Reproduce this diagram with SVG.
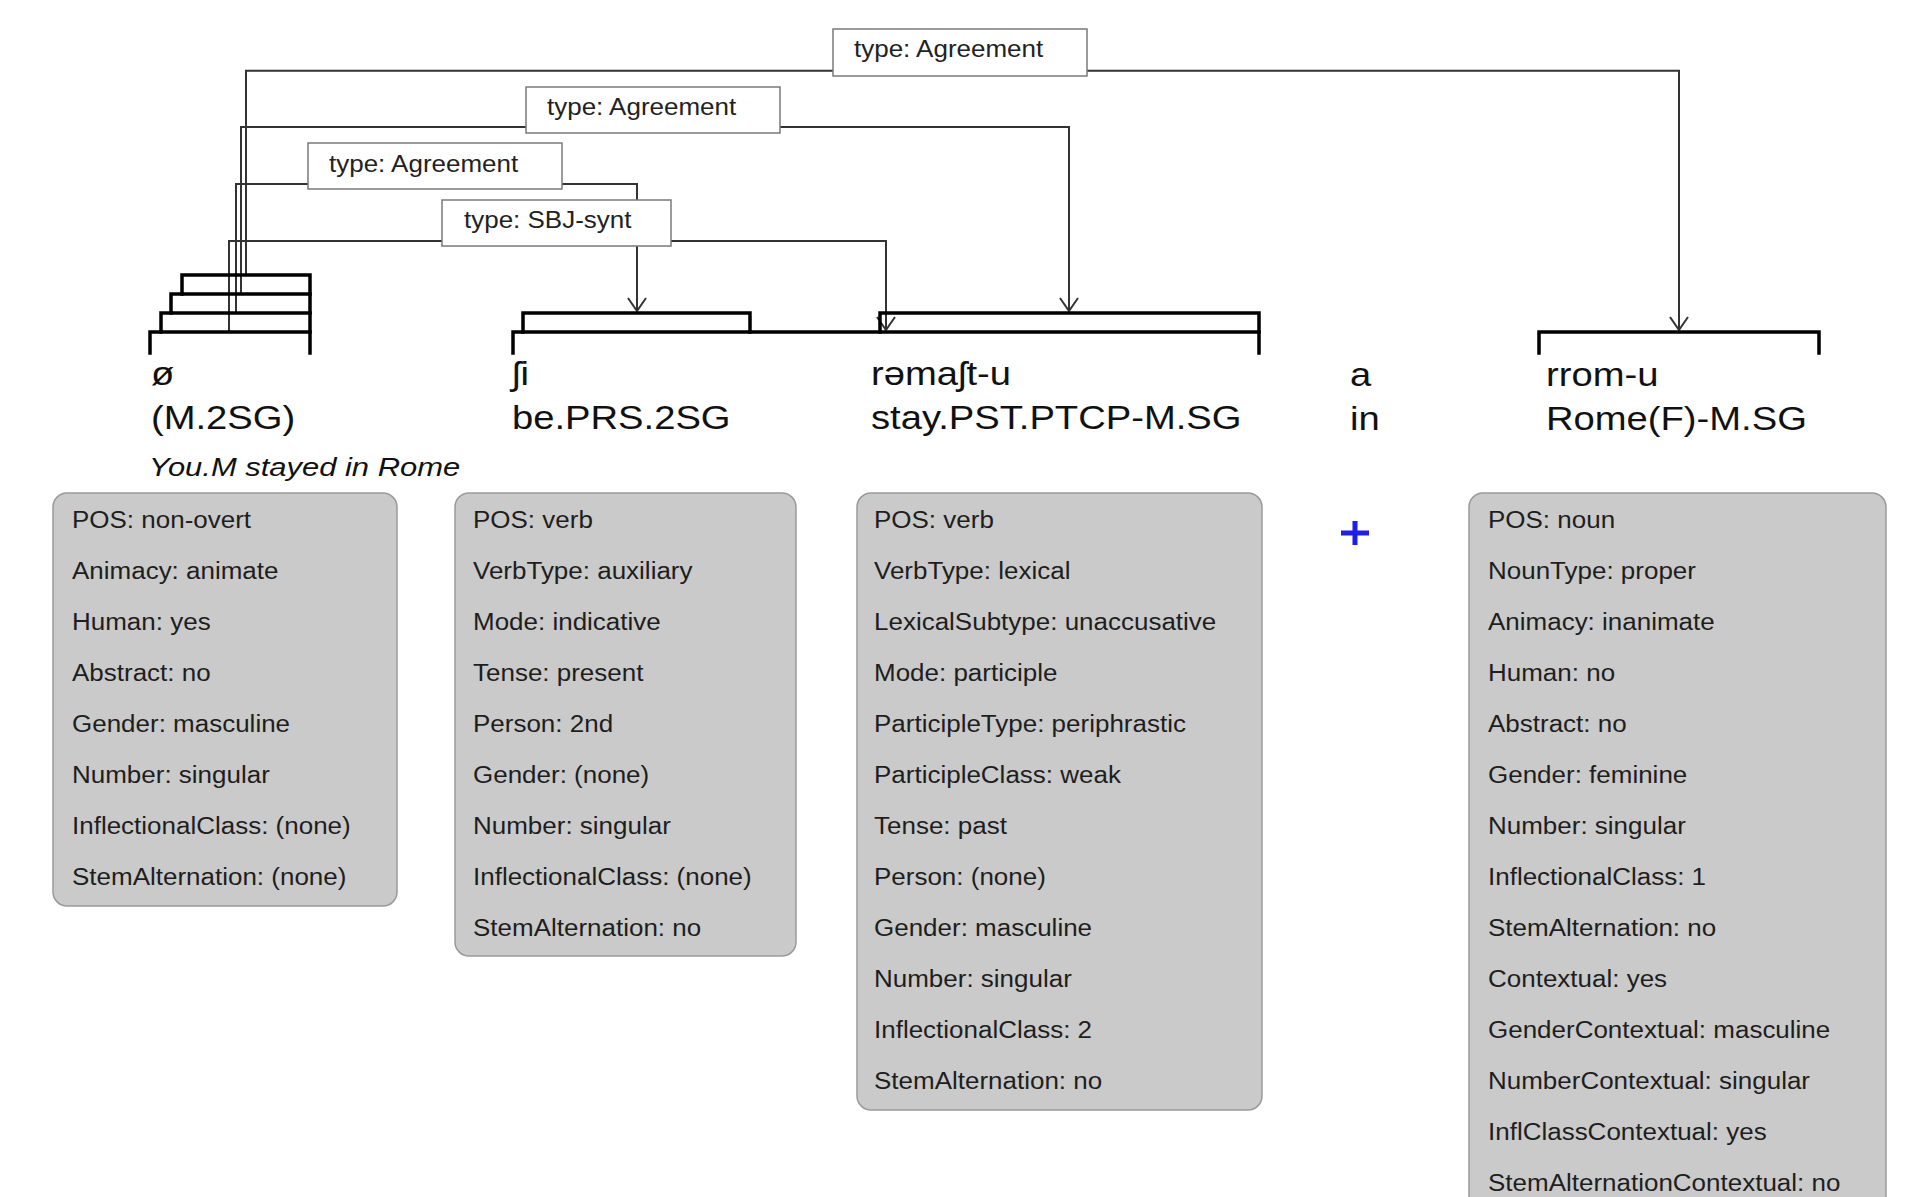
<svg xmlns="http://www.w3.org/2000/svg" width="1927" height="1197" viewBox="0 0 1927 1197">
<defs>
<style>
text{font-family:"Liberation Sans",Arial,sans-serif}
.w{font-size:33.5px;fill:#111}
.it{font-size:26px;font-style:italic;fill:#111}
.p{font-size:23px;fill:#1e1e1e}
.lb{font-size:23px;fill:#222}
.box{fill:#cacaca;stroke:#9a9a9a;stroke-width:1.5}
.lbox{fill:#fff;stroke:#7a7a7a;stroke-width:1.5}
.br{fill:none;stroke:#000;stroke-width:3.5;stroke-linecap:square}
.cn{fill:none;stroke:#333;stroke-width:2}
</style>
<marker id="arr" markerWidth="16" markerHeight="20" refX="13" refY="9" orient="auto" markerUnits="userSpaceOnUse" overflow="visible">
<path d="M0,0 L13,9 L0,18" fill="none" stroke="#333" stroke-width="2"/>
</marker>
</defs>
<rect width="1927" height="1197" fill="#fff"/>

<g id="connectors">
<path class="cn" d="M246,275 V70.7 H1679 V330" marker-end="url(#arr)"/>
<path class="cn" d="M241,294 V127 H1069 V311" marker-end="url(#arr)"/>
<path class="cn" d="M236,313 V184 H637 V311" marker-end="url(#arr)"/>
<path class="cn" d="M229,332 V241 H886 V330" marker-end="url(#arr)"/>
</g>

<g id="edge-labels">
<g id="label-agr-top"><rect class="lbox" x="833" y="29" width="254" height="47"/><text class="lb" transform="translate(854 57) scale(1.13 1)">type: Agreement</text></g>
<g id="label-agr-mid"><rect class="lbox" x="526" y="87" width="254" height="46"/><text class="lb" transform="translate(547 115) scale(1.13 1)">type: Agreement</text></g>
<g id="label-agr-low"><rect class="lbox" x="308" y="143" width="254" height="46"/><text class="lb" transform="translate(329 172) scale(1.13 1)">type: Agreement</text></g>
<g id="label-sbj"><rect class="lbox" x="442" y="200" width="229" height="46"/><text class="lb" transform="translate(464 228) scale(1.13 1)">type: SBJ-synt</text></g>
</g>

<g id="node-null">
<path class="br" d="M182,294 V275 H310 V353"/>
<path class="br" d="M171,313 V294 H310"/>
<path class="br" d="M161,332 V313 H310"/>
<path class="br" d="M150,353 V332 H310"/>
<text class="w" transform="translate(151 385) scale(1.14 1)">ø</text>
<text class="w" transform="translate(151 429) scale(1.14 1)">(M.2SG)</text>
<text class="it" transform="translate(149 476) scale(1.19 1)">You.M stayed in Rome</text>
<rect class="box" x="53" y="493" width="344" height="413" rx="14"/>
<g transform="translate(72 0) scale(1.13 1)">
<text class="p" y="528">POS: non-overt</text>
<text class="p" y="579">Animacy: animate</text>
<text class="p" y="630">Human: yes</text>
<text class="p" y="681">Abstract: no</text>
<text class="p" y="732">Gender: masculine</text>
<text class="p" y="783">Number: singular</text>
<text class="p" y="834">InflectionalClass: (none)</text>
<text class="p" y="885">StemAlternation: (none)</text>
</g>
</g>

<g id="node-phrase">
<path class="br" d="M513,353 V332 H1259 V353"/>
</g>

<g id="node-si">
<path class="br" d="M523,332 V313 H750 V332"/>
<text class="w" transform="translate(512 385) scale(1.14 1)">ʃi</text>
<text class="w" transform="translate(512 429) scale(1.14 1)">be.PRS.2SG</text>
<rect class="box" x="455" y="493" width="341" height="463" rx="14"/>
<g transform="translate(473 0) scale(1.13 1)">
<text class="p" y="528">POS: verb</text>
<text class="p" y="579">VerbType: auxiliary</text>
<text class="p" y="630">Mode: indicative</text>
<text class="p" y="681">Tense: present</text>
<text class="p" y="732">Person: 2nd</text>
<text class="p" y="783">Gender: (none)</text>
<text class="p" y="834">Number: singular</text>
<text class="p" y="885">InflectionalClass: (none)</text>
<text class="p" y="936">StemAlternation: no</text>
</g>
</g>

<g id="node-remaftu">
<path class="br" d="M880,332 V313 H1259 V332"/>
<text class="w" transform="translate(871 385) scale(1.14 1)">rəmaʃt-u</text>
<text class="w" transform="translate(871 429) scale(1.14 1)">stay.PST.PTCP-M.SG</text>
<rect class="box" x="857" y="493" width="405" height="617" rx="14"/>
<g transform="translate(874 0) scale(1.13 1)">
<text class="p" y="528">POS: verb</text>
<text class="p" y="579">VerbType: lexical</text>
<text class="p" y="630">LexicalSubtype: unaccusative</text>
<text class="p" y="681">Mode: participle</text>
<text class="p" y="732">ParticipleType: periphrastic</text>
<text class="p" y="783">ParticipleClass: weak</text>
<text class="p" y="834">Tense: past</text>
<text class="p" y="885">Person: (none)</text>
<text class="p" y="936">Gender: masculine</text>
<text class="p" y="987">Number: singular</text>
<text class="p" y="1038">InflectionalClass: 2</text>
<text class="p" y="1089">StemAlternation: no</text>
</g>
</g>

<g id="node-a">
<text class="w" transform="translate(1350 386) scale(1.14 1)">a</text>
<text class="w" transform="translate(1350 430) scale(1.14 1)">in</text>
<path d="M1341,533 H1369 M1355,521 V545" fill="none" stroke="#1f1fe6" stroke-width="5"/>
</g>

<g id="node-rromu">
<path class="br" d="M1539,353 V332 H1819 V353"/>
<text class="w" transform="translate(1546 386) scale(1.14 1)">rrom-u</text>
<text class="w" transform="translate(1546 430) scale(1.14 1)">Rome(F)-M.SG</text>
<rect class="box" x="1469" y="493" width="417" height="730" rx="14"/>
<g transform="translate(1488 0) scale(1.13 1)">
<text class="p" y="528">POS: noun</text>
<text class="p" y="579">NounType: proper</text>
<text class="p" y="630">Animacy: inanimate</text>
<text class="p" y="681">Human: no</text>
<text class="p" y="732">Abstract: no</text>
<text class="p" y="783">Gender: feminine</text>
<text class="p" y="834">Number: singular</text>
<text class="p" y="885">InflectionalClass: 1</text>
<text class="p" y="936">StemAlternation: no</text>
<text class="p" y="987">Contextual: yes</text>
<text class="p" y="1038">GenderContextual: masculine</text>
<text class="p" y="1089">NumberContextual: singular</text>
<text class="p" y="1140">InflClassContextual: yes</text>
<text class="p" y="1191">StemAlternationContextual: no</text>
</g>
</g>
</svg>
